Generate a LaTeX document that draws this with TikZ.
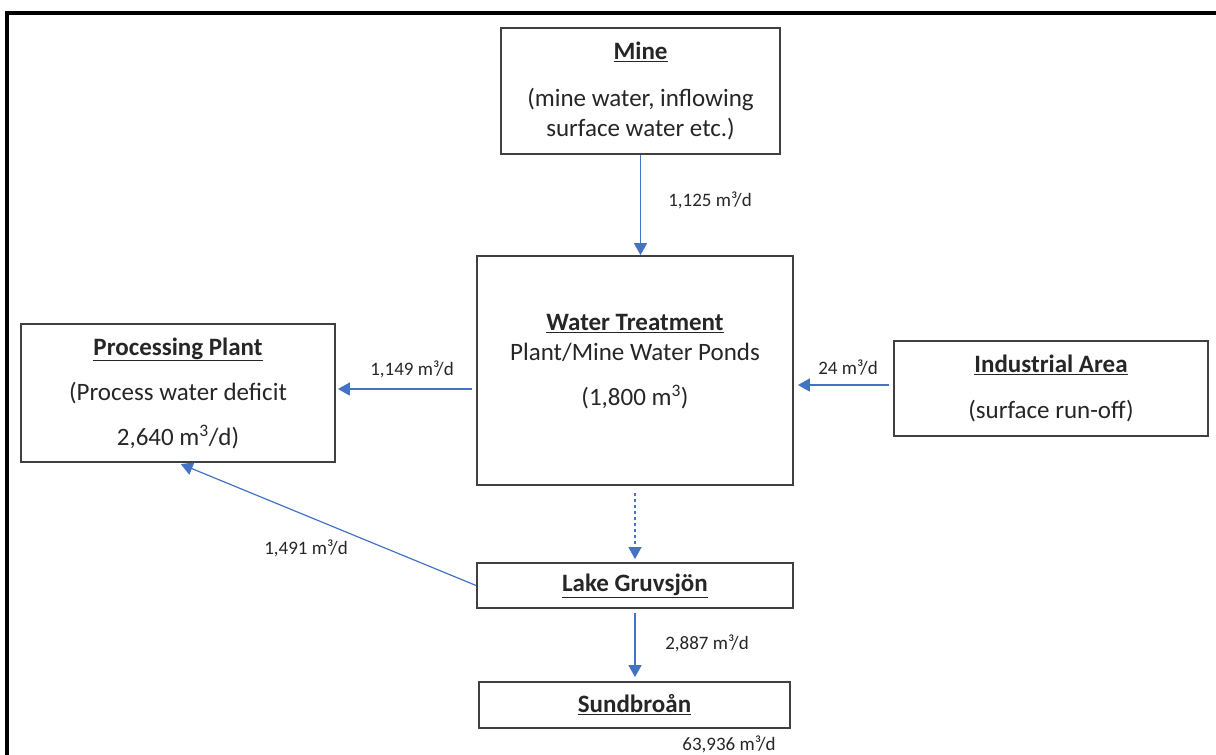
\documentclass[tikz,border=0pt]{standalone}
\usepackage{fontspec}
\setmainfont{Carlito}
\usetikzlibrary{arrows.meta}
\definecolor{FlowBlue}{RGB}{68, 114, 196}
\definecolor{BoxGray}{RGB}{64, 64, 64}
\definecolor{TextGray}{RGB}{38, 38, 38}
\newcommand{\boxtitle}[1]{\underline{\textbf{#1}}}

\begin{document}
\begin{tikzpicture}[x=1pt, y=-1pt,
		box/.style={draw=BoxGray, line width=1.8pt, text=TextGray, align=center, inner sep=0pt, font=\fontsize{25}{30}\selectfont},
		flow/.style={FlowBlue, line width=1.6pt, -{Triangle[length=12pt, width=13pt]}},
		flowlabel/.style={text=TextGray, inner sep=0pt, font=\fontsize{19}{22}\selectfont}]
		\useasboundingbox (0, 0) rectangle (1216, 755);
		\begin{scope}
			\clip (0, 0) rectangle (1216, 755);
			\draw[line width=4.5pt] (7, 13) rectangle (1240, 780);
		\end{scope}
		\node[box, minimum width=279pt, minimum height=126pt] (mine) at (640.5, 91) {\boxtitle{Mine}\\[17pt](mine water, inflowing\\surface water etc.)};
		\node[box, minimum width=316pt, minimum height=229pt] (wt) at (635, 370.5) {\boxtitle{Water Treatment}\\Plant/Mine Water Ponds\\[15pt](1,800 m\textsuperscript{3})\\[-9pt]\mbox{}};
		\node[box, minimum width=314pt, minimum height=138pt] (pp) at (178, 393) {\boxtitle{Processing Plant}\\[15pt](Process water deficit\\[15pt]2,640 m\textsuperscript{3}/d)};
		\node[box, minimum width=314pt, minimum height=95pt] (ia) at (1051, 388.5) {\boxtitle{Industrial Area}\\[16pt](surface run-off)};
		\node[box, minimum width=316pt, minimum height=45pt] (lake) at (635, 585.5) {\boxtitle{Lake Gruvsjön}};
		\node[box, minimum width=311pt, minimum height=46pt] (sund) at (634.5, 705) {\boxtitle{Sundbroån}};
		\coordinate (wtout) at ([yshift=-18.5pt]wt.west);
		\coordinate (iaout) at ([yshift=3.5pt]ia.west);
		\draw[flow] (mine.south) -- (mine.south |- wt.north);
		\draw[flow, shorten <=4pt, shorten >=2pt] (wtout) -- (wtout -| pp.east);
		\draw[flow, shorten <=4pt, shorten >=4pt] (iaout) -- (iaout -| wt.east);
		\draw[flow, line width=1.2pt, dash pattern=on 3pt off 3pt, shorten <=7pt, shorten >=3pt] (wt.south) -- (wt.south |- lake.north);
		\draw[flow, line width=1.2pt, shorten >=3pt] (lake.west) -- (pp.south);
		\draw[flow, shorten <=4pt, shorten >=4pt] (lake.south) -- (lake.south |- sund.north);
		\node[flowlabel] (qmine) at (710, 200) {1,125 m³/d};
		\node[flowlabel] (qpp) at (412, 369) {1,149 m³/d};
		\node[flowlabel] (qia) at (848, 368) {24 m³/d};
		\node[flowlabel] (qlake) at (306, 548) {1,491 m³/d};
		\node[flowlabel] (qsund) at (707, 643) {2,887 m³/d};
		\node[flowlabel] (qout) at (729, 744) {63,936 m³/d};
	\end{tikzpicture}
\end{document}
